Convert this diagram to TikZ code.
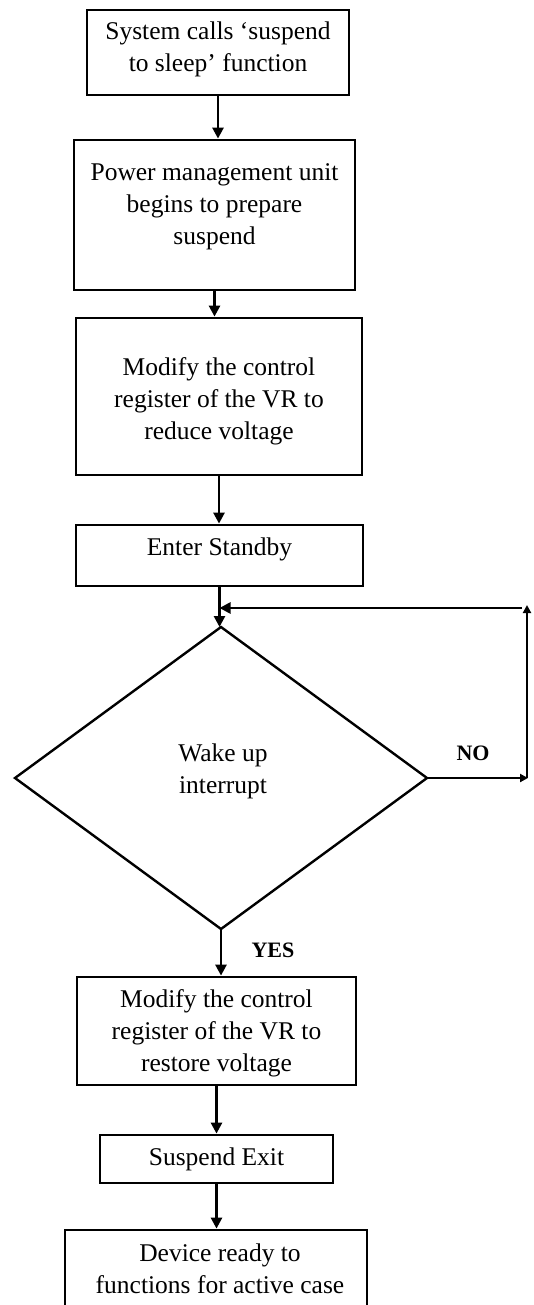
\documentclass[tikz,border=0pt]{standalone}
\usepackage{fontspec}
\setmainfont{Liberation Serif}
\usetikzlibrary{shapes.geometric,arrows.meta}
\tikzset{
  box/.style={draw, line width=2.8pt, inner sep=0pt, rectangle},
  txt/.style={align=center, font=\fontsize{25.5}{32}\selectfont, inner sep=0pt},
  lbl/.style={font=\fontsize{22}{26}\selectfont\bfseries, inner sep=0pt},
  conn/.style={line width=2.6pt, -{Triangle[length=11pt,width=11pt]}},
  sconn/.style={line width=2.6pt, -{Triangle[length=8pt,width=8pt]}},
}
\begin{document}
\begin{tikzpicture}[x=1pt,y=-1pt]
\path[use as bounding box, clip] (0,0) rectangle (533,1305);
\fill[white] (0,0) rectangle (533,1305);

% boxes
\node[box, minimum width=262pt, minimum height=85pt] (b1) at (218,52.5) {};
\node[txt] (t1) at (218,49) {System calls `suspend\\to sleep' function};

\node[box, minimum width=281pt, minimum height=150pt] (b2) at (214.5,215) {};
\node[txt] (t2) at (214.5,207) {Power management unit\\begins to prepare\\suspend};

\node[box, minimum width=286pt, minimum height=157pt] (b3) at (219,396.5) {};
\node[txt] (t3) at (219,401) {Modify the control\\register of the VR to\\reduce voltage};

\node[box, minimum width=287pt, minimum height=61pt] (b4) at (219.5,555.5) {};
\node[txt] (t4) at (219.5,549) {Enter Standby};

\node[draw, diamond, line width=2.4pt, inner sep=0pt, outer sep=0pt,
      minimum width=412pt, minimum height=302pt] (d) at (221,778) {};
\node[txt] (td) at (223,771) {Wake up\\interrupt};

\node[box, minimum width=279pt, minimum height=108pt] (b5) at (216.5,1031) {};
\node[txt] (t5) at (216.5,1033) {Modify the control\\register of the VR to\\restore voltage};

\node[box, minimum width=233pt, minimum height=48pt] (b6) at (216.5,1159) {};
\node[txt] (t6) at (216.5,1159) {Suspend Exit};

\node[box, minimum width=302pt, minimum height=100pt] (b7) at (216,1280) {};
\node[txt] (t7) at (220,1269) {Device ready to\\functions for active case};

% labels
\node[lbl] (yes) at (273,950) {YES};
\node[lbl] (no) at (473,753) {NO};

% connectors
\draw[conn] (b1.south) -- (b1.south |- b2.north);
\draw[conn] (b2.south) -- (b2.south |- b3.north);
\draw[conn] (b3.south) -- (b3.south |- b4.north);
\draw[conn] (b4.south) -- (b4.south |- d.north);
\draw[conn] (d.south) -- (d.south |- b5.north);
\draw[conn] (b5.south) -- (b5.south |- b6.north);
\draw[conn] (b6.south) -- (b6.south |- b7.north);

% feedback loop
\coordinate (r1) at (528,778);
\coordinate (r2) at (527,778);
\coordinate (r3) at (527,605);
\coordinate (r4) at (522,608);
\coordinate (j) at (b4.south |- r4);
\draw[sconn] (d.east) -- (r1);
\draw[sconn] (r2) -- (r3);
\draw[conn] (r4) -- (j);
\end{tikzpicture}
\end{document}
